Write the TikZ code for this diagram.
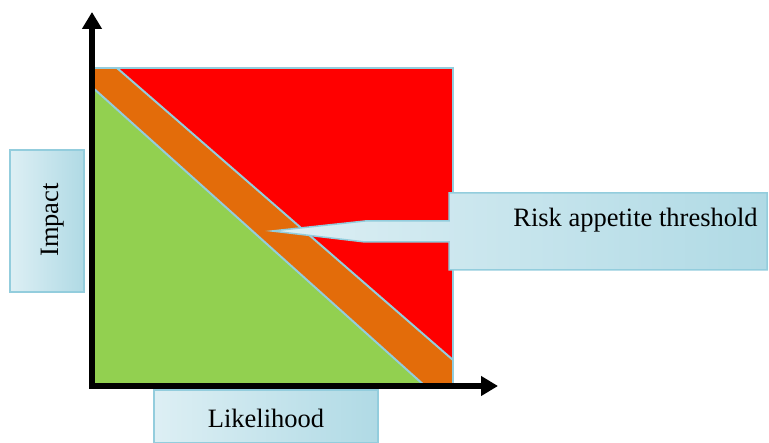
\documentclass[tikz,border=0pt]{standalone}
\usepackage{fontspec}
\setmainfont{Liberation Serif}
\usetikzlibrary{arrows.meta}
\definecolor{riskred}{HTML}{FF0000}
\definecolor{bandorange}{HTML}{E36C0A}
\definecolor{safegreen}{HTML}{92D050}
\definecolor{edgeblue}{HTML}{93CDDD}
\definecolor{boxlight}{HTML}{DDEFF4}
\definecolor{boxdark}{HTML}{B0DAE5}
\tikzset{
    labelbox/.style={draw=edgeblue, line width=1.5pt, left color=boxlight, right color=boxdark},
    zoneline/.style={draw=edgeblue, line width=2pt},
    axis/.style={line width=6pt, {Triangle[width=19pt,length=17pt]}-{Triangle[width=19pt,length=17pt]}}
}

\begin{document}
\begin{tikzpicture}[x=1pt, y=-1pt, font=\fontsize{26.5}{31}\selectfont]
    \useasboundingbox (0,0) rectangle (769,443);
    % zones
    \fill[riskred] (92,68) rectangle (453,386);
    \fill[bandorange] (92,68) -- (117,68) -- (453,360) -- (453,386) -- (425,386) -- (92,87) -- cycle;
    \fill[safegreen] (92,87) -- (425,386) -- (92,386) -- cycle;
    \draw[zoneline] (92,68) -- (453,68) -- (453,386);
    \draw[zoneline] (117,68) -- (453,360);
    \draw[zoneline] (92,87) -- (425,386);
    % axes
    \coordinate (ytip) at (92,12);
    \coordinate (origin) at (92,386);
    \coordinate (xtip) at (498,386);
    \draw[axis] (ytip) -- (origin) -- (xtip);
    % labels
    \path[labelbox] (10,150) rectangle (84,292);
    \node[rotate=90, anchor=base] (impact) at (58,220) {Impact};
    \path[labelbox] (154,390) rectangle (378,443);
    \node[anchor=base] (likelihood) at (266,428) {Likelihood};
    \path[labelbox] (449,193) -- (767,193) -- (767,270) -- (449,270) -- (449,242)
        -- (365,242) -- (272,231) -- (365,221) -- (449,221) -- cycle;
    \node[anchor=base] (threshold) at (635.5,227) {Risk appetite threshold};
\end{tikzpicture}
\end{document}
